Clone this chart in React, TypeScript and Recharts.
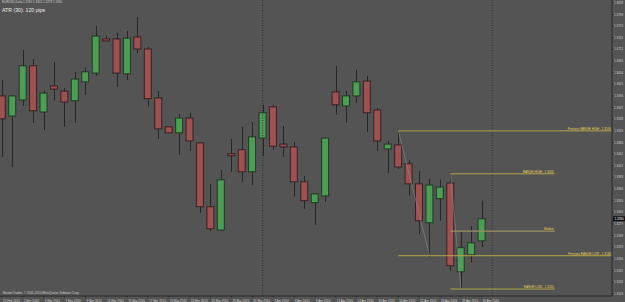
import React from "react";
import { ComposedChart, Bar, XAxis, YAxis, ReferenceLine } from "recharts";

// EURUSD daily, 25 Feb 2010 - 30 Apr 2010
const dates = [
  "25 Feb 2010", "26 Feb 2010", "1 Mar 2010", "2 Mar 2010", "3 Mar 2010", "4 Mar 2010", "5 Mar 2010",
  "8 Mar 2010", "9 Mar 2010", "10 Mar 2010", "11 Mar 2010", "12 Mar 2010", "15 Mar 2010", "16 Mar 2010",
  "17 Mar 2010", "18 Mar 2010", "19 Mar 2010", "22 Mar 2010", "23 Mar 2010", "24 Mar 2010", "25 Mar 2010",
  "26 Mar 2010", "29 Mar 2010", "30 Mar 2010", "31 Mar 2010", "1 Apr 2010", "2 Apr 2010", "5 Apr 2010",
  "6 Apr 2010", "7 Apr 2010", "8 Apr 2010", "9 Apr 2010", "12 Apr 2010", "13 Apr 2010", "14 Apr 2010",
  "15 Apr 2010", "16 Apr 2010", "19 Apr 2010", "20 Apr 2010", "21 Apr 2010", "22 Apr 2010", "23 Apr 2010",
  "26 Apr 2010", "27 Apr 2010", "28 Apr 2010", "29 Apr 2010", "30 Apr 2010",
];

const opens = [
  1.3596, 1.3546, 1.3586, 1.3671, 1.3556, 1.3621, 1.3608, 1.3584, 1.3631, 1.3653,
  1.3738, 1.3738, 1.3651, 1.3743, 1.3713, 1.3591, 1.3519, 1.3504, 1.3541, 1.3479,
  1.3320, 1.3262, 1.3452, 1.3462, 1.3407, 1.3491, 1.3569, 1.3476, 1.3469, 1.3382,
  1.3330, 1.3347, 1.3606, 1.3571, 1.3596, 1.3633, 1.3561, 1.3464, 1.3474, 1.3427,
  1.3377, 1.3280, 1.3340, 1.3379, 1.3158, 1.3200, 1.3235,
];
const highs = [
  1.3636, 1.3598, 1.3711, 1.3688, 1.3608, 1.3681, 1.3616, 1.3656, 1.3666, 1.3770,
  1.3745, 1.3753, 1.3758, 1.3793, 1.3718, 1.3608, 1.3519, 1.3551, 1.3554, 1.3479,
  1.3377, 1.3412, 1.3489, 1.3519, 1.3531, 1.3574, 1.3574, 1.3521, 1.3481, 1.3397,
  1.3354, 1.3491, 1.3671, 1.3608, 1.3661, 1.3646, 1.3566, 1.3484, 1.3509, 1.3437,
  1.3409, 1.3389, 1.3387, 1.3402, 1.3260, 1.3272, 1.3335,
];
const lows = [
  1.3444, 1.3419, 1.3571, 1.3529, 1.3511, 1.3584, 1.3519, 1.3529, 1.3598, 1.3646,
  1.3733, 1.3618, 1.3636, 1.3703, 1.3569, 1.3489, 1.3504, 1.3449, 1.3459, 1.3305,
  1.3260, 1.3262, 1.3407, 1.3382, 1.3374, 1.3447, 1.3462, 1.3444, 1.3345, 1.3315,
  1.3275, 1.3332, 1.3549, 1.3529, 1.3579, 1.3506, 1.3459, 1.3404, 1.3414, 1.3347,
  1.3252, 1.3195, 1.3285, 1.3160, 1.3115, 1.3180, 1.3220,
];
const closes = [
  1.3539, 1.3596, 1.3671, 1.3559, 1.3603, 1.3613, 1.3581, 1.3638, 1.3656, 1.3745,
  1.3733, 1.3653, 1.3740, 1.3713, 1.3589, 1.3514, 1.3504, 1.3541, 1.3484, 1.3320,
  1.3265, 1.3387, 1.3447, 1.3407, 1.3494, 1.3554, 1.3471, 1.3469, 1.3382, 1.3335,
  1.3352, 1.3491, 1.3574, 1.3596, 1.3631, 1.3554, 1.3484, 1.3476, 1.3419, 1.3377,
  1.3285, 1.3374, 1.3369, 1.3173, 1.3218, 1.3230, 1.3290,
];

const priceTicks = [
  1.3828, 1.3799, 1.3770, 1.3741, 1.3712, 1.3683, 1.3654, 1.3625, 1.3596, 1.3567,
  1.3538, 1.3509, 1.3480, 1.3451, 1.3422, 1.3393, 1.3364, 1.3335, 1.3306, 1.3277,
  1.3248, 1.3219, 1.3190, 1.3161, 1.3132, 1.3103,
];

// range levels (indicator)
const levelNames = ["Previous RANGE HIGH", "RANGE HIGH", "Median", "Previous RANGE LOW", "RANGE LOW"];
const levelValues = [1.3509, 1.3402, 1.3259, 1.3198, 1.3115];
const levelFrom = [38, 43, 43, 38, 43];
const levelTo = [58.485, 53, 53, 58.485, 53];

// month separators (first bar of month)
const separators = [25, 47];

const X_DOMAIN: [number, number] = [-0.192, 58.485];
const Y_DOMAIN: [number, number] = [1.30976, 1.3835];

const BG = "#545454";
const FONT = "'Liberation Sans', Arial, sans-serif";

const data = dates.map((d, i) => ({
  idx: i,
  date: d,
  open: opens[i],
  high: highs[i],
  low: lows[i],
  close: closes[i],
  range: [lows[i], highs[i]],
}));

function Candle(props: any) {
  const { x, y, width, height, payload } = props;
  const { open, close, high, low } = payload;
  const top = Math.min(y, y + height);
  const h = Math.abs(height);
  const k = h / (high - low);
  const cx = Math.round(x + width / 2) + 0.5;
  const yo = top + (high - open) * k;
  const yc = top + (high - close) * k;
  const up = close >= open;
  const bodyTop = Math.min(yo, yc);
  const bodyH = Math.max(Math.abs(yc - yo), 1);
  return (
    <g>
      <line x1={cx} x2={cx} y1={top} y2={top + h} stroke="#262626" strokeWidth={1} />
      <rect
        x={x + 0.5}
        y={bodyTop}
        width={width - 1}
        height={bodyH}
        fill={up ? "#4f9c56" : "#9c5252"}
        stroke={up ? "#1f3a21" : "#3a2020"}
        strokeWidth={1}
      />
    </g>
  );
}

function DateTick({ x, y, payload }: any) {
  return (
    <text x={x + 1} y={y + 2.5} fontSize={3} fill="#d0d0d0" fontFamily={FONT} textAnchor="start">
      {dates[payload.value]}
    </text>
  );
}

function levelLabel(text: string) {
  return ({ viewBox }: any) => {
    if (!viewBox) return null;
    const right = viewBox.x + Math.abs(viewBox.width);
    return (
      <text x={right - 1} y={viewBox.y - 0.8} fontSize={3} fill="#e8d35a" fontFamily={FONT} textAnchor="end">
        {text}
      </text>
    );
  };
}

function currentPrice({ viewBox }: any) {
  if (!viewBox) return null;
  const x = viewBox.x + viewBox.width;
  return (
    <g>
      <rect x={x + 1} y={viewBox.y - 2.5} width={12} height={5} fill="#111" />
      <text x={x + 2.5} y={viewBox.y + 1.1} fontSize={3} fill="#fff" fontFamily={FONT}>
        {closes[closes.length - 1].toFixed(4)}
      </text>
    </g>
  );
}

export default function App() {
  const xTicks = dates.map((_, i) => i).filter((i) => i % 2 === 0);
  return (
    <div style={{ position: "fixed", left: 0, top: 0, width: 625, height: 302, background: BG, overflow: "hidden" }}>
      <ComposedChart width={625} height={302} data={data} margin={{ top: 0, right: 0, bottom: 0, left: 0 }}>
        <XAxis
          dataKey="idx"
          type="number"
          domain={X_DOMAIN}
          allowDataOverflow
          ticks={xTicks}
          interval={0}
          height={6}
          tickSize={1.5}
          axisLine={{ stroke: "#2b2b2b" }}
          tickLine={{ stroke: "#2b2b2b" }}
          tick={<DateTick />}
        />
        <YAxis
          orientation="right"
          type="number"
          domain={Y_DOMAIN}
          allowDataOverflow
          ticks={priceTicks}
          interval={0}
          width={13}
          tickSize={1.5}
          tickMargin={0.5}
          axisLine={{ stroke: "#2b2b2b" }}
          tickLine={{ stroke: "#2b2b2b" }}
          tick={{ fontSize: 3, fill: "#d0d0d0", fontFamily: FONT }}
          tickFormatter={(v: number) => v.toFixed(4)}
        />
        {separators.map((s) => (
          <ReferenceLine key={"sep" + s} x={s} stroke="#262626" strokeDasharray="1 1.5" strokeWidth={0.8} />
        ))}
        <ReferenceLine
          segment={[{ x: levelFrom[0], y: levelValues[0] }, { x: 41, y: levelValues[3] }]}
          stroke="#8a8a80"
          strokeWidth={0.6}
        />
        <ReferenceLine
          segment={[{ x: levelFrom[1], y: levelValues[1] }, { x: 44, y: levelValues[4] }]}
          stroke="#8a8a80"
          strokeWidth={0.6}
        />
        {levelNames.map((name, i) => (
          <ReferenceLine
            key={name}
            segment={[{ x: levelFrom[i], y: levelValues[i] }, { x: levelTo[i], y: levelValues[i] }]}
            stroke={name === "Median" ? "#9a9064" : "#b3a347"}
            strokeWidth={name === "Median" ? 1.3 : 1}
            label={levelLabel(name === "Median" ? name : `${name} - ${levelValues[i].toFixed(4)}`)}
          />
        ))}
        <Bar dataKey="range" barSize={8} shape={<Candle />} isAnimationActive={false} />
        <ReferenceLine y={closes[closes.length - 1]} stroke="none" label={currentPrice} />
      </ComposedChart>
      <div style={{ position: "absolute", left: 2, top: 0, fontSize: 3, lineHeight: "4px", color: "#cfcfcf", fontFamily: FONT, whiteSpace: "nowrap" }}>
        EURUSD,Daily  1.3290 1.3301 1.3278 1.3290
      </div>
      <div style={{ position: "absolute", left: 2, top: 6.5, fontSize: 5.2, lineHeight: "6px", color: "#ededed", fontFamily: FONT, whiteSpace: "nowrap" }}>
        ATR (30): 120 pips
      </div>
      <div style={{ position: "absolute", left: 3, top: 291, fontSize: 3, lineHeight: "4px", color: "#cfcfcf", fontFamily: FONT, whiteSpace: "nowrap" }}>
        Boston Trades, © 2001-2010 MetaQuotes Software Corp.
      </div>
    </div>
  );
}
